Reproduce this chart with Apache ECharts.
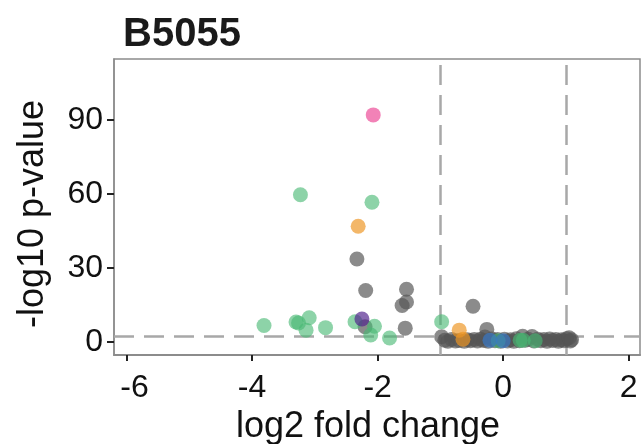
<!DOCTYPE html>
<html>
<head>
<meta charset="utf-8">
<script src="https://cdn.jsdelivr.net/npm/echarts@6/dist/echarts.min.js"></script>
<style>
html,body{margin:0;padding:0;background:#fff;}
#chart{width:641px;height:444px;}
</style>
</head>
<body>
<div id="chart"></div>
<script>
var titleText = 'B5055';
var xName = 'log2 fold change';
var yName = '-log10 p-value';
var xTicks = [-6, -4, -2, 0, 2];
var yTicks = [0, 30, 60, 90];
var fcCut = [-1, 1];
var pCut = 2.3;

// gray (not significant / other) points: [log2FC, -log10 p]
var grayPts = [
  [-2.33, 33.6], [-2.19, 20.8], [-1.54, 21.3], [-1.54, 16.1], [-1.61, 14.7],
  [-1.56, 5.5], [-2.2, 6.1], [-0.48, 14.4], [-0.26, 5.0], [-0.98, 2.0],
  [-0.93, 0.6], [-0.88, 0.2], [-0.82, 0.9], [-0.76, 0.3], [-0.7, 0.5],
  [-0.62, 0.2], [-0.57, 0.8], [-0.52, 0.4], [-0.46, 0.9], [-0.41, 0.3],
  [-0.36, 1.0], [-0.31, 0.5], [-0.29, 1.9], [-0.24, 0.2], [-0.18, 1.1],
  [-0.13, 0.4], [-0.09, 0.9], [-0.04, 0.2], [0.02, 1.0], [0.07, 0.3],
  [0.12, 0.8], [0.17, 0.2], [0.21, 1.2], [0.26, 0.4], [0.31, 2.2],
  [0.35, 0.6], [0.4, 1.0], [0.46, 2.1], [0.49, 0.3], [0.55, 1.0],
  [0.6, 0.4], [0.65, 0.9], [0.7, 0.2], [0.74, 1.1], [0.79, 0.5],
  [0.84, 0.9], [0.88, 0.2], [0.93, 0.8], [0.97, 0.4], [1.01, 1.2],
  [1.05, 1.6], [1.07, 0.3], [1.09, 0.8]
];
var greenPts = [
  [-3.23, 59.7], [-2.09, 56.6], [-3.81, 6.6], [-3.30, 8.0], [-3.26, 7.6],
  [-3.09, 9.7], [-3.14, 4.7], [-2.83, 5.7], [-2.36, 8.1], [-2.05, 6.3],
  [-2.11, 2.7], [-1.81, 1.5], [-0.98, 8.1], [-0.08, 0.4], [0.27, 0.6],
  [0.32, 0.6], [0.51, 0.4]
];
var orangePts = [[-2.31, 46.9], [-0.70, 4.7], [-0.64, 1.0]];
var pinkPts = [[-2.07, 92.1]];
var purplePts = [[-2.25, 9.2]];
var bluePts = [[-0.21, 0.6], [0.0, 0.4]];

var chart = echarts.init(document.getElementById('chart'), null, {renderer: 'canvas'});
var FONT = 'Liberation Sans, Arial, Helvetica, sans-serif';
function sc(name, data, color, z) {
  return {
    name: name, type: 'scatter', data: data, symbolSize: 15, z: z,
    itemStyle: {color: color, borderWidth: 0},
    silent: true, animation: false
  };
}
var option = {
  animation: false,
  backgroundColor: '#ffffff',
  title: {
    text: titleText, left: 118, top: 10,
    textStyle: {fontFamily: FONT, fontSize: 40, fontWeight: 'bold', color: '#1a1a1a'}
  },
  grid: {
    left: 114, right: 1, top: 59, bottom: 89,
    containLabel: false, outerBoundsMode: 'none',
    show: true, borderColor: '#8c8c8c', borderWidth: 1.5, backgroundColor: '#ffffff'
  },
  xAxis: {
    type: 'value', min: -6.2, max: 2.18,
    name: xName, nameLocation: 'middle', nameGap: 45,
    nameTextStyle: {fontFamily: FONT, fontSize: 36, color: '#111', padding: [0, 18, 0, 0]},
    axisLine: {show: true, onZero: false, lineStyle: {color: '#8c8c8c', width: 2}},
    axisTick: {show: true, customValues: xTicks, length: 6, lineStyle: {color: '#222', width: 2}},
    axisLabel: {
      customValues: xTicks, fontFamily: FONT, fontSize: 32, color: '#111', margin: 17,
      formatter: function (v) { return v === xTicks[0] ? '{first|' + v + '}' : String(v); },
      rich: {first: {fontFamily: FONT, fontSize: 32, color: '#111', padding: [0, 0, 0, 16]}}
    },
    splitLine: {show: false}
  },
  yAxis: {
    type: 'value', min: -5.4, max: 114.8,
    name: yName, nameLocation: 'middle', nameGap: 63, nameRotate: 90,
    nameTextStyle: {fontFamily: FONT, fontSize: 36, color: '#111', padding: [0, 14, 0, 0]},
    axisLine: {show: true, onZero: false, lineStyle: {color: '#8c8c8c', width: 1.5}},
    axisTick: {show: true, customValues: yTicks, length: 7, lineStyle: {color: '#222', width: 2}},
    axisLabel: {customValues: yTicks, fontFamily: FONT, fontSize: 32, color: '#111', margin: 11},
    splitLine: {show: false}
  },
  series: [
    {
      type: 'scatter', data: [], z: 1, silent: true,
      markLine: {
        silent: true, symbol: 'none', animation: false, z: 1,
        label: {show: false},
        lineStyle: {color: '#a8a8a8', width: 2.5, type: [20, 10]},
        data: [{xAxis: fcCut[0]}, {xAxis: fcCut[1]}, {yAxis: pCut}]
      }
    },
    sc('gray', grayPts, 'rgba(85,85,85,0.85)', 3),
    sc('green', greenPts, 'rgba(72,185,115,0.78)', 4),
    sc('orange', orangePts, 'rgba(238,150,35,0.85)', 5),
    sc('blue', bluePts, 'rgba(55,120,200,0.85)', 4),
    sc('pink', pinkPts, 'rgba(236,72,150,0.85)', 5),
    sc('purple', purplePts, 'rgba(80,35,140,0.85)', 6)
  ]
};
chart.setOption(option);
</script>
</body>
</html>
